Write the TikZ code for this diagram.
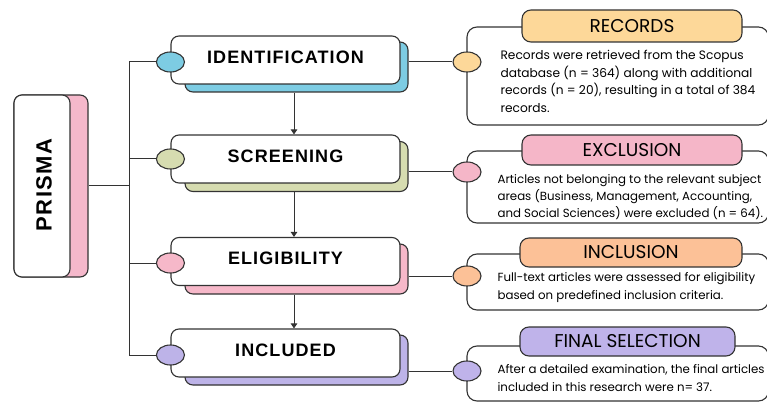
\documentclass[tikz,border=0pt]{standalone}
\usepackage{fontspec}
\setmainfont{Poppins}
\newfontfamily\headfont{Liberation Sans}[LetterSpace=6]
\newfontfamily\pillfont{Poppins}
\usetikzlibrary{arrows.meta,shapes.geometric,calc}

\definecolor{edge}{HTML}{333333}
\definecolor{idblue}{HTML}{7DCCE3}
\definecolor{scgreen}{HTML}{D6DCB0}
\definecolor{elpink}{HTML}{F6B8C9}
\definecolor{inpurple}{HTML}{BDB3E8}
\definecolor{prpink}{HTML}{F5B8CB}
\definecolor{recorange}{HTML}{FDD899}
\definecolor{expink}{HTML}{F5B6C8}
\definecolor{inpeach}{HTML}{FCC197}
\definecolor{fipurple}{HTML}{BFB3EA}

\begin{document}
\begin{tikzpicture}[x=1pt,y=-1pt,line width=1.1pt,
  frontbox/.style={draw=edge,fill=white,rounded corners=8pt,minimum width=229pt,
    minimum height=48pt,inner sep=0pt,text depth=6pt,
    font=\headfont\bfseries\fontsize{18}{18}\selectfont},
  backbox/.style={draw=edge,rounded corners=8pt,minimum width=223pt,minimum height=50pt,inner sep=0pt},
  tab/.style={ellipse,draw=edge,minimum width=28pt,minimum height=20pt,inner sep=0pt},
  pill/.style={draw=edge,rounded corners=9pt,inner sep=0pt,
    font=\pillfont\fontsize{18.5}{18.5}\selectfont},
  card/.style={draw=edge,fill=white,rounded corners=10pt,inner sep=0pt,minimum width=301.5pt},
  note/.style={anchor=north west,align=left,inner sep=0pt,font=\fontsize{11.8}{17.5}\selectfont},
  link/.style={draw=edge,line width=1pt},
  arr/.style={link,-{Triangle[width=6.5pt,length=5pt]}}]

\useasboundingbox (0,0) rectangle (767,403);

% PRISMA block
\node[draw=edge,fill=prpink,rounded corners=8pt,minimum width=74pt,minimum height=182pt] (pb) at (51,186) {};
\node[draw=edge,fill=white,rounded corners=8pt,minimum width=56pt,minimum height=182pt] (pf) at (42,186) {};
\node[rotate=90,font=\headfont\bfseries\fontsize{22}{22}\selectfont] (pt) at (44,185) {PRISMA};

% stage boxes
\node[backbox,fill=idblue] (idb) at (296.5,67) {};
\node[frontbox] (idf) at (285.5,60) {IDENTIFICATION};
\node[backbox,fill=scgreen] (scb) at (296.5,166.5) {};
\node[frontbox] (scf) at (285.5,159) {SCREENING};
\node[backbox,fill=elpink] (elb) at (296.5,269) {};
\node[frontbox] (elf) at (285.5,261.5) {ELIGIBILITY};
\node[backbox,fill=inpurple] (inb) at (296.5,360) {};
\node[frontbox] (inf) at (285.5,353) {INCLUDED};

% flow arrows between stages
\coordinate (ax) at (294,0);
\draw[arr] (idb.south -| ax) -- (scf.north -| ax);
\draw[arr] (scb.south -| ax) -- (elf.north -| ax);
\draw[arr] (elb.south -| ax) -- (inf.north -| ax);

% left tabs
\node[tab,fill=idblue] (le1) at ($(idf.west)+(0,2)$) {};
\node[tab,fill=scgreen] (le2) at ($(scf.west)+(0,0)$) {};
\node[tab,fill=elpink] (le3) at ($(elf.west)+(0,1.5)$) {};
\node[tab,fill=inpurple] (le4) at ($(inf.west)+(0,2)$) {};

% spine from PRISMA to the stages
\coordinate (sp) at (129,186);
\draw[link] (pb.east) -- (pb.east -| sp);
\draw[link] (sp |- le1) -- (sp |- le4);
\draw[link] (sp |- le1) -- (le1.west);
\draw[link] (sp |- le2) -- (le2.west);
\draw[link] (sp |- le3) -- (le3.west);
\draw[link] (sp |- le4) -- (le4.west);

% detail cards
\node[card,minimum height=98pt] (c1) at (617.75,76) {};
\node[card,minimum height=72pt] (c2) at (617.75,187) {};
\node[card,minimum height=56pt] (c3) at (617.75,282) {};
\node[card,minimum height=55pt] (c4) at (617.75,373.5) {};

\node[pill,fill=recorange,minimum width=220pt,minimum height=32pt] (p1) at (632,26) {RECORDS};
\node[pill,fill=expink,minimum width=220pt,minimum height=30pt] (p2) at (632,150) {EXCLUSION};
\node[pill,fill=inpeach,minimum width=222pt,minimum height=29pt] (p3) at (631,252.5) {INCLUSION};
\node[pill,fill=fipurple,minimum width=215pt,minimum height=29pt] (p4) at (627.5,341.5) {FINAL SELECTION};

\node[tab,fill=recorange] (re1) at (467,62) {};
\node[tab,fill=expink] (re2) at (467,172) {};
\node[tab,fill=inpeach] (re3) at (467,276) {};
\node[tab,fill=fipurple] (re4) at (467,371) {};

\draw[link] (idb.east |- re1) -- (re1.west);
\draw[link] (scb.east |- re2) -- (re2.west);
\draw[link] (elb.east |- re3) -- (re3.west);
\draw[link] (inb.east |- re4) -- (re4.west);

\node[note,font=\fontsize{12.2}{17.5}\selectfont] (t1) at (500,50) {Records were retrieved from the Scopus\\database (n = 364) along with additional\\records (n = 20), resulting in a total of 384\\records.};
\node[note,font=\fontsize{11.8}{17}\selectfont] (t2) at (497,174) {Articles not belonging to the relevant subject\\areas (Business, Management, Accounting,\\and Social Sciences) were excluded (n = 64).};
\node[note] (t3) at (497,272) {Full-text articles were assessed for eligibility\\based on predefined inclusion criteria.};
\node[note] (t4) at (497,364) {After a detailed examination, the final articles\\included in this research were n= 37.};
\end{tikzpicture}
\end{document}
